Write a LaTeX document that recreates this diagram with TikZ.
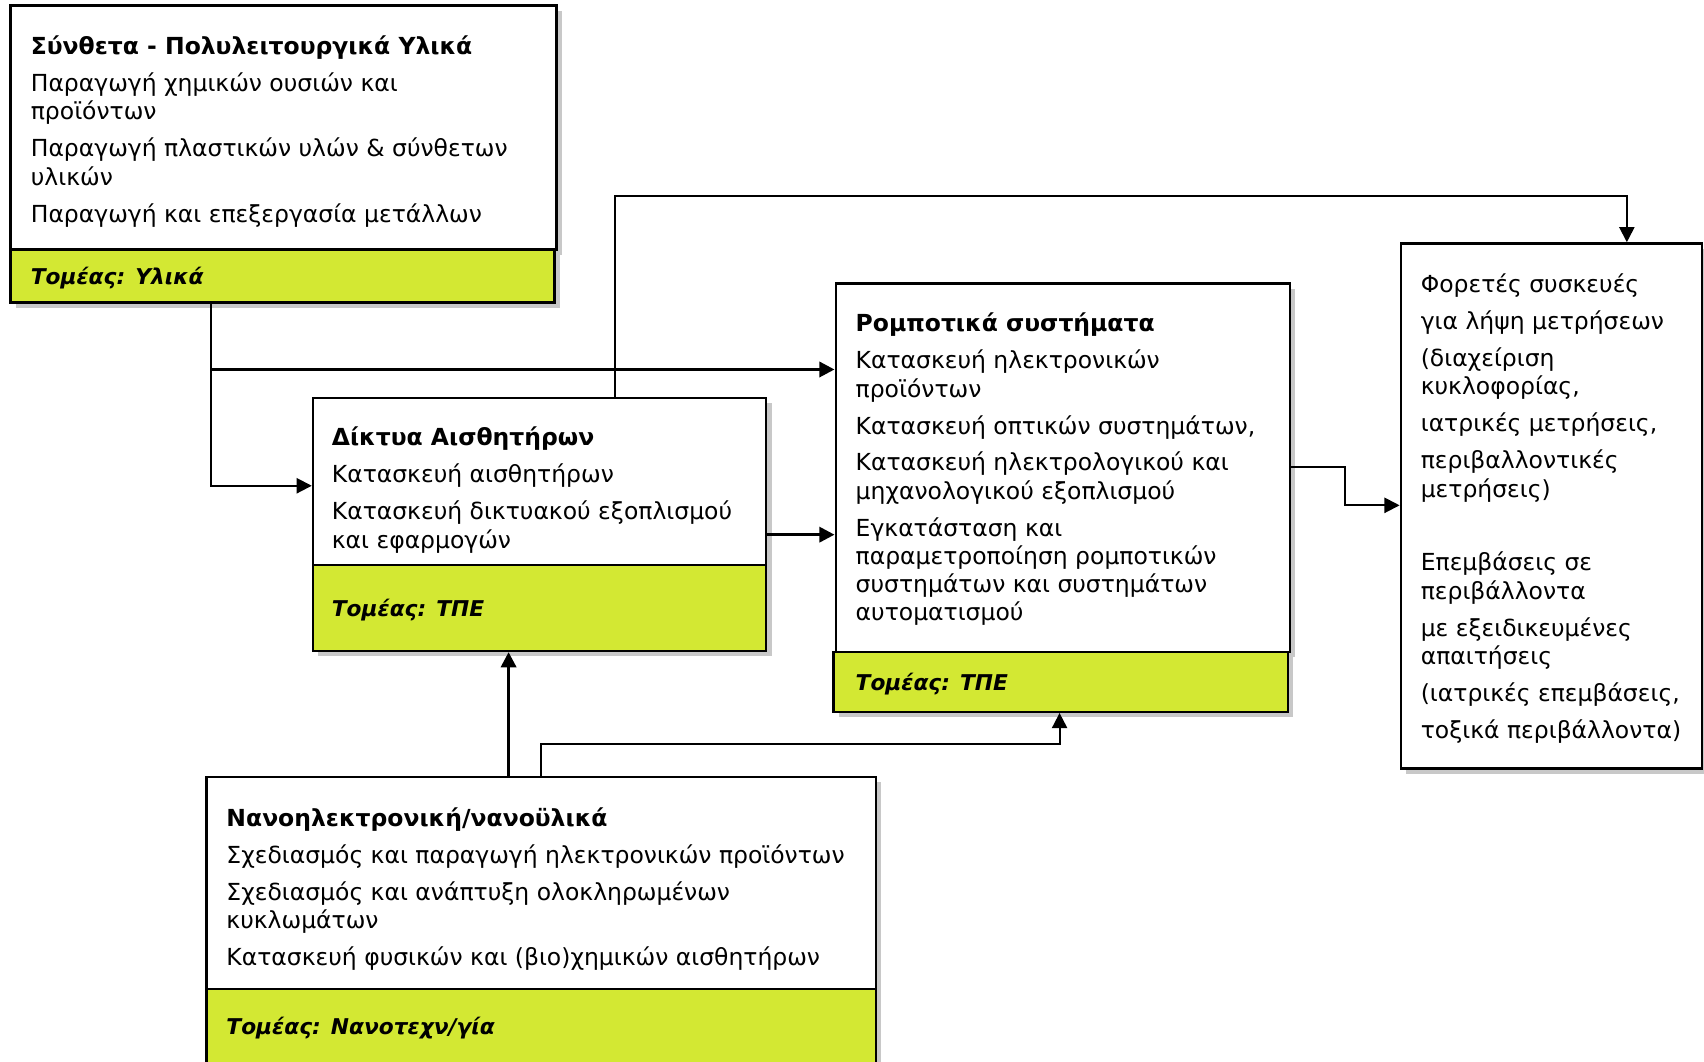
\documentclass[tikz,border=0pt]{standalone}
\usepackage{fontspec}
\setmainfont{DejaVu Sans}
\usetikzlibrary{arrows.meta,fit,shadows}
\definecolor{sector}{RGB}{211,232,51}
\definecolor{shade}{RGB}{200,200,200}

% first line of each text block gets a fixed height, so that the block
% can be hung from the top at (first baseline - 9pt)
\newcommand\firstline{\rule{0pt}{9pt}}

\tikzset{
  panel/.style={draw=black, line width=1.1pt, inner sep=0pt,
    drop shadow={shadow xshift=2.5pt, shadow yshift=-2.5pt, fill=shade, opacity=1}},
  whitepanel/.style={panel, fill=white},
  greenpanel/.style={panel, fill=sector},
  body/.style={anchor=north west, inner sep=0pt, align=left,
    font=\fontsize{10.8pt}{13pt}\selectfont},
  sectorlabel/.style={anchor=base west, inner sep=0pt,
    font=\fontsize{10pt}{12pt}\selectfont\bfseries\itshape},
  conn/.style={line width=0.9pt},
  heavy/.style={line width=1.4pt},
  tip/.style={-{Triangle[length=7pt,width=7pt]}}
}

\begin{document}
\begin{tikzpicture}[x=0.5pt,y=-0.5pt]
\useasboundingbox (0,0) rectangle (1568,977);
\clip (0,0) rectangle (1568,977);

% materials
\node[whitepanel, line width=1.4pt, fit={(10,5) (512,230)}] (Aw) {};
\node[greenpanel, line width=1.4pt, fit={(10,230) (510,278)}] (Ag) {};
\node[body] (At) at (28,32) {\firstline{\bfseries Σύνθετα - Πολυλειτουργικά Υλικά}\\[4pt]
  Παραγωγή χημικών ουσιών και\\ προϊόντων\\[4pt]
  Παραγωγή πλαστικών υλών \& σύνθετων\\ υλικών\\[4pt]
  Παραγωγή και επεξεργασία μετάλλων};
\node[sectorlabel] (Al) at (28,262) {Τομέας: Υλικά};

% sensor networks
\node[whitepanel, fit={(288,366) (705,520)}] (Bw) {};
\node[greenpanel, fit={(288,520) (705,599)}] (Bg) {};
\node[body] (Bt) at (305,392) {\firstline{\bfseries Δίκτυα Αισθητήρων}\\[4pt]
  Κατασκευή αισθητήρων\\[4pt]
  Κατασκευή δικτυακού εξοπλισμού\\ και εφαρμογών};
\node[sectorlabel] (Bl) at (305,567) {Τομέας: ΤΠΕ};

% robotic systems
\node[whitepanel, fit={(769,261) (1187,600)}] (Cw) {};
\node[greenpanel, fit={(767,600) (1185,655)}] (Cg) {};
\node[body] (Ct) at (787,287) {\firstline{\bfseries Ρομποτικά συστήματα}\\[4pt]
  Κατασκευή ηλεκτρονικών\\ προϊόντων\\[4pt]
  Κατασκευή οπτικών συστημάτων,\\[4pt]
  Κατασκευή ηλεκτρολογικού και\\ μηχανολογικού εξοπλισμού\\[4pt]
  Εγκατάσταση και\\ παραμετροποίηση ρομποτικών\\ συστημάτων και συστημάτων\\ αυτοματισμού};
\node[sectorlabel] (Cl) at (787,635) {Τομέας: ΤΠΕ};

% applications
\node[whitepanel, fit={(1289,224) (1566,707)}] (Dw) {};
\node[body] (Dt) at (1307,251) {\firstline Φορετές συσκευές\\[4pt]
  για λήψη μετρήσεων\\[4pt]
  (διαχείριση\\ κυκλοφορίας,\\[4pt]
  ιατρικές μετρήσεις,\\[4pt]
  περιβαλλοντικές\\ μετρήσεις)\\[21pt]
  Επεμβάσεις σε\\ περιβάλλοντα\\[4pt]
  με εξειδικευμένες\\ απαιτήσεις\\[4pt]
  (ιατρικές επεμβάσεις,\\[4pt]
  τοξικά περιβάλλοντα)};

% nanoelectronics
\node[whitepanel, fit={(190,715) (806,910)}] (Ew) {};
\node[greenpanel, fit={(190,910) (806,995)}] (Eg) {};
\node[body] (Et) at (208,742) {\firstline{\bfseries Νανοηλεκτρονική/νανοϋλικά}\\[4pt]
  Σχεδιασμός και παραγωγή ηλεκτρονικών προϊόντων\\[4pt]
  Σχεδιασμός και ανάπτυξη ολοκληρωμένων\\ κυκλωμάτων\\[4pt]
  Κατασκευή φυσικών και (βιο)χημικών αισθητήρων};
\node[sectorlabel] (El) at (208,952) {Τομέας: Νανοτεχν/γία};

% routing points
\coordinate (tA) at (194,340);
\coordinate (yAB) at (0,447);
\coordinate (tB) at (566,180);
\coordinate (tD) at (1497,180);
\coordinate (yBC) at (0,492);
\coordinate (tC) at (1238,430);
\coordinate (yCD) at (0,465);
\coordinate (tE1) at (468,0);
\coordinate (tE2) at (498,685);
\coordinate (tC2) at (975,685);

% connectors
\draw[conn] (tA |- Ag.south) -- (tA);
\draw[conn, tip] (tA) |- (Bw.west |- yAB);
\draw[heavy, tip] (tA) -- (tA -| Cw.west);
\draw[conn, tip] (tB |- Bw.north) -- (tB) -- (tD) -- (tD |- Dw.north);
\draw[heavy, tip] (Bw.east |- yBC) -- (Cw.west |- yBC);
\draw[conn, tip] (Cw.east |- tC) -- (tC) |- (Dw.west |- yCD);
\draw[heavy, tip] (tE1 |- Ew.north) -- (tE1 |- Bg.south);
\draw[conn, tip] (tE2 |- Ew.north) -- (tE2) -- (tC2) -- (tC2 |- Cg.south);
\end{tikzpicture}
\end{document}
